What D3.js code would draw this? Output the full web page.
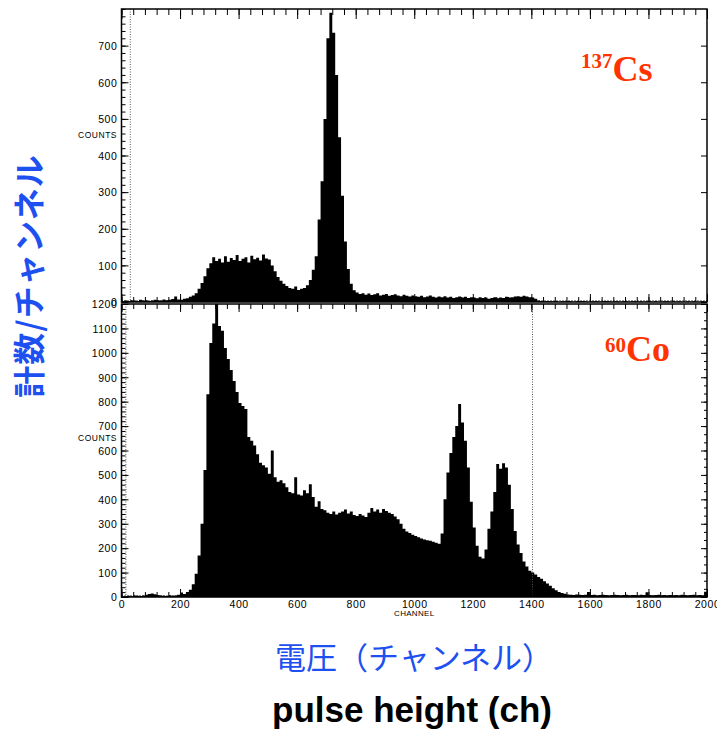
<!DOCTYPE html>
<html>
<head>
<meta charset="utf-8">
<script src="https://cdn.jsdelivr.net/npm/d3@7"></script>
<style>
  html, body { margin: 0; padding: 0; background: #fff; }
  svg { display: block; }
</style>
</head>
<body>
<svg id="chart" width="717" height="730"></svg>
<script>
// Gamma-ray pulse-height spectra, counts per 10-channel bin (channels 0–2000).
const channelMax = 2000;
const binWidth = 10;

// 137Cs spectrum
const csCounts = [
  2,4,3,5,4,3,6,4,5,3,4,6,5,4,7,5,6,8,15,7,
  6,9,10,14,18,24,36,52,70,92,106,122,
  112,118,108,125,110,120,115,128,112,118,122,108,126,117,121,113,130,119,116,
  100,84,68,58,50,44,38,36,42,33,36,38,46,
  60,88,125,225,330,500,720,790,735,620,450,290,165,90,50,32,
  26,22,24,20,23,19,21,24,18,20,22,17,19,21,18,16,20,17,15,18,
  16,14,17,13,15,18,14,12,15,13,16,12,14,11,13,15,12,14,11,13,
  12,10,13,11,12,9,11,13,10,12,11,14,12,13,15,16,14,17,15,13,12,9,
  4,3,2,3,2,2,3,1,2,2,3,2,1,2,2,3,2,1,2,2,
  2,1,2,3,2,1,2,2,1,2,
  2,1,2,2,1,2,1,2,2,1,
  2,1,1,2,2,1,2,1,2,1,
  1,2,1,2,1,1,2,1
];

// 60Co spectrum
const coCounts = [
  2,4,5,3,6,5,4,6,9,12,14,11,8,6,5,4,7,5,6,9,
  18,12,20,30,52,95,170,300,520,830,1040,1120,
  1200,1110,1090,1020,975,930,885,840,795,782,770,655,640,620,585,550,540,530,505,
  600,490,472,478,466,450,430,425,490,420,416,437,425,
  462,410,370,392,360,355,345,340,350,338,345,350,358,342,350,336,
  332,340,334,328,345,365,350,358,345,360,352,345,340,330,318,300,280,268,262,255,
  250,245,240,236,232,230,226,222,218,260,400,510,590,655,700,790,715,640,530,390,
  285,210,165,158,195,280,350,430,545,525,548,530,460,360,270,215,180,145,125,108,100,92,
  82,75,64,55,46,36,28,20,16,13,
  10,9,8,10,9,8,9,
  20,
  8,9,7,8,9,8,7,8,9,8,7,8,9,7,8,8,7,9,8,
  19,
  8,7,8,9,7,8,7,8,7,8,7,9,8,7,8,9,7,8,7,
  22
];

// Cursor / region markers (channel numbers)
const csMarkers = [30];
const coMarkers = [15, 1404];

// Tick values
const xTickLabels = [0, 200, 400, 600, 800, 1000, 1200, 1400, 1600, 1800, 2000];
const csYTicks = [0, 100, 200, 300, 400, 500, 600, 700];
const coYTicks = [0, 100, 200, 300, 400, 500, 600, 700, 800, 900, 1000, 1100, 1200];

// Text
const isotopeLabels = [["137", "Cs"], ["60", "Co"]];
const yTitle = "計数/チャンネル";
const xTitleJa = "電圧（チャンネル）";
const xTitleEn = "pulse height (ch)";

const svg = d3.select("#chart");
const left = 121.5, right = 707;
const tickFont = "'Liberation Sans', Arial, sans-serif";

const x = d3.scaleLinear().domain([0, channelMax]).range([left, right]);
const xMinor = d3.range(0, channelMax + 1, 40);

const panels = [
  { id: "cs", counts: csCounts, markers: csMarkers, yMax: 800, top: 9, bottom: 302,
    majors: csYTicks, rightMinorStep: null, countsAt: 455, label: isotopeLabels[0],
    labelX: 581, supY: 68, baseY: 81, topTick: [10, 6], bottomTick: [8, 5] },
  { id: "co", counts: coCounts, markers: coMarkers, yMax: 1200, top: 304, bottom: 597,
    majors: coYTicks, rightMinorStep: 100 / 3, countsAt: 650, label: isotopeLabels[1],
    labelX: 605, supY: 352, baseY: 361, topTick: [8, 5], bottomTick: [8, 5] }
];

panels.forEach(p => {
  const y = d3.scaleLinear().domain([0, p.yMax]).range([p.bottom, p.top]);
  const g = svg.append("g");

  g.append("clipPath").attr("id", "clip-" + p.id)
    .append("rect").attr("x", left).attr("y", p.top)
    .attr("width", right - left).attr("height", p.bottom - p.top);

  // dotted zero-level trace
  g.append("line")
    .attr("x1", left).attr("x2", right)
    .attr("y1", y(0) - 1.5).attr("y2", y(0) - 1.5)
    .attr("stroke", "#333").attr("stroke-width", 1)
    .attr("stroke-dasharray", "1,2");

  // histogram
  const pts = p.counts.map((c, i) => [i * binWidth, c]);
  pts.push([channelMax, p.counts[p.counts.length - 1]]);
  const area = d3.area()
    .x(d => x(d[0]))
    .y0(y(0))
    .y1(d => y(d[1]))
    .curve(d3.curveStepAfter);
  g.append("path")
    .datum(pts)
    .attr("clip-path", "url(#clip-" + p.id + ")")
    .attr("d", area)
    .attr("fill", "#000");

  // marker lines
  g.selectAll(".marker").data(p.markers).join("line")
    .attr("x1", d => x(d)).attr("x2", d => x(d))
    .attr("y1", p.top).attr("y2", p.bottom)
    .attr("stroke", "#555").attr("stroke-width", 1)
    .attr("stroke-dasharray", "1,1.5");

  const styleAxis = sel => {
    sel.select(".domain").remove();
    sel.selectAll("line").attr("stroke", "#000").attr("stroke-width", 1);
    sel.selectAll("text")
      .attr("font-family", tickFont)
      .attr("font-size", 10.5)
      .attr("letter-spacing", 0.6)
      .attr("fill", "#000");
  };

  // left axis: majors labelled, minors every 20
  const minorY = d3.range(0, p.yMax + 1, 20);
  g.append("g").attr("transform", `translate(${left},0)`)
    .call(d3.axisLeft(y).tickValues(minorY).tickSize(-4).tickFormat(""))
    .call(styleAxis);
  g.append("g").attr("transform", `translate(${left},0)`)
    .call(d3.axisLeft(y).tickValues(p.majors).tickSize(-7).tickPadding(4).tickFormat(d3.format("d")))
    .call(styleAxis)
    .call(s => s.selectAll("text").attr("dy", "0.36em"));

  // right axis
  g.append("g").attr("transform", `translate(${right},0)`)
    .call(d3.axisRight(y).tickValues(p.majors).tickSize(-6).tickFormat(""))
    .call(styleAxis);
  if (p.rightMinorStep) {
    const rm = d3.range(0, p.yMax + 0.1, p.rightMinorStep);
    g.append("g").attr("transform", `translate(${right},0)`)
      .call(d3.axisRight(y).tickValues(rm).tickSize(-3).tickFormat(""))
      .call(styleAxis);
  }

  // top and bottom channel ticks (inward)
  g.append("g").attr("transform", `translate(0,${p.top})`)
    .call(d3.axisTop(x).tickValues(xMinor).tickSize(-p.topTick[1]).tickFormat(""))
    .call(styleAxis);
  g.append("g").attr("transform", `translate(0,${p.top})`)
    .call(d3.axisTop(x).tickValues(xTickLabels).tickSize(-p.topTick[0]).tickFormat(""))
    .call(styleAxis);
  g.append("g").attr("transform", `translate(0,${p.bottom})`)
    .call(d3.axisBottom(x).tickValues(xMinor).tickSize(-p.bottomTick[1]).tickFormat(""))
    .call(styleAxis);
  const bottomAxis = d3.axisBottom(x).tickValues(xTickLabels).tickSize(-p.bottomTick[0]);
  if (p.id === "co") bottomAxis.tickPadding(4).tickFormat(d3.format("d"));
  else bottomAxis.tickFormat("");
  g.append("g").attr("transform", `translate(0,${p.bottom})`)
    .call(bottomAxis)
    .call(styleAxis);

  // frame
  g.append("rect")
    .attr("x", left).attr("y", p.top)
    .attr("width", right - left).attr("height", p.bottom - p.top)
    .attr("fill", "none").attr("stroke", "#000").attr("stroke-width", 1.5);

  // "COUNTS"
  g.append("text")
    .attr("x", 117).attr("y", y(p.countsAt))
    .attr("dy", "0.35em")
    .attr("text-anchor", "end")
    .attr("font-family", tickFont).attr("font-size", 8.5)
    .attr("letter-spacing", 0.5)
    .text("COUNTS");

  // isotope name
  const t = g.append("text")
    .attr("x", p.labelX)
    .attr("font-family", "'Liberation Serif', 'Times New Roman', serif")
    .attr("font-weight", "bold")
    .attr("fill", "#ff3300");
  t.append("tspan").attr("y", p.supY).attr("font-size", 21).text(p.label[0]);
  t.append("tspan").attr("y", p.baseY).attr("font-size", 36).text(p.label[1]);
});

// "CHANNEL"
svg.append("text")
  .attr("x", x(1000)).attr("y", 616)
  .attr("text-anchor", "middle")
  .attr("font-family", tickFont).attr("font-size", 8)
  .attr("letter-spacing", 0.3)
  .text("CHANNEL");

// axis titles
svg.append("text")
  .attr("transform", "translate(41,276) rotate(-90)")
  .attr("text-anchor", "middle")
  .attr("font-family", "'Noto Sans CJK JP', sans-serif")
  .attr("font-weight", "bold")
  .attr("font-size", 32)
  .attr("letter-spacing", 1)
  .attr("fill", "#1e50f0")
  .text(yTitle);

svg.append("text")
  .attr("x", 414).attr("y", 669)
  .attr("text-anchor", "middle")
  .attr("font-family", "'Noto Sans CJK JP', sans-serif")
  .attr("font-size", 31)
  .attr("fill", "#1e50f0")
  .text(xTitleJa);

svg.append("text")
  .attr("x", 412).attr("y", 722)
  .attr("text-anchor", "middle")
  .attr("font-family", "'Liberation Sans', Arial, sans-serif")
  .attr("font-weight", "bold")
  .attr("font-size", 35)
  .attr("fill", "#000")
  .text(xTitleEn);
</script>
</body>
</html>
